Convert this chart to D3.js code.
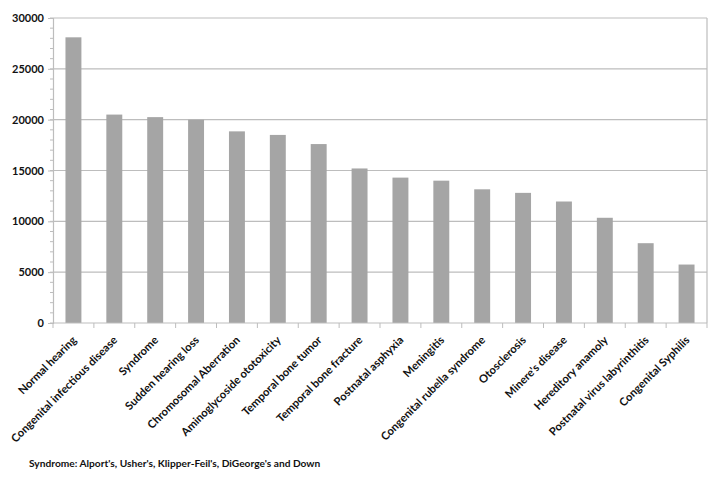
<!DOCTYPE html>
<html><head><meta charset="utf-8">
<script src="https://cdn.jsdelivr.net/npm/d3@7"></script>
<style>
html,body{margin:0;padding:0;background:#fff;}
svg text{font-family:Lato,"Open Sans",sans-serif;font-weight:bold;fill:#111;}
</style></head>
<body><svg id="c" width="720" height="482"></svg>
<script>
const categories = ["Normal hearing","Congenital infectious disease","Syndrome","Sudden hearing loss","Chromosomal Aberration","Aminoglycoside ototoxicity","Temporal bone tumor","Temporal bone fracture","Postnatal asphyxia","Meningitis","Congenital rubella syndrome","Otosclerosis","Minere's disease","Hereditory anamoly","Postnatal virus labyrinthitis","Congenital Syphilis"];
const values = [28100,20500,20250,20000,18850,18500,17600,15200,14300,14000,13150,12800,11950,10350,7850,5750];
const yTicks = [0,5000,10000,15000,20000,25000,30000];
const minorTicks = d3.range(0,30001,1000);
const footnote = "Syndrome: Alport's, Usher's, Klipper-Feil's, DiGeorge's and Down";

const svg = d3.select("#c");
const m = {l:53, r:13, t:18, b:159};
const W = 720, H = 482;
const x = d3.scaleBand().domain(categories).range([m.l, W-m.r]).paddingInner(0.61).paddingOuter(0.305);
const y = d3.scaleLinear().domain([0,30000]).range([H-m.b, m.t]);
const grid = "#bdbdbd";

// gridlines
svg.append("g").selectAll("line").data(yTicks.slice(1)).join("line")
  .attr("x1", m.l).attr("x2", W-m.r).attr("y1", d=>y(d)).attr("y2", d=>y(d))
  .attr("stroke", grid).attr("stroke-width",1.2);
// right border
svg.append("line").attr("x1",W-m.r).attr("x2",W-m.r).attr("y1",y(30000)).attr("y2",y(0))
  .attr("stroke",grid).attr("stroke-width",1.2);

// bars
svg.append("g").selectAll("rect").data(values).join("rect")
  .attr("x",(d,i)=>x(categories[i])).attr("width",x.bandwidth())
  .attr("y",d=>y(d)).attr("height",d=>y(0)-y(d)).attr("fill","#a5a5a5");

// y axis
const ya = svg.append("g").attr("transform",`translate(${m.l},0)`)
  .call(d3.axisLeft(y).tickValues(yTicks).tickSize(5).tickPadding(4).tickFormat(d3.format("d")));
ya.select(".domain").attr("stroke",grid).attr("stroke-width",1.2);
ya.selectAll(".tick line").attr("stroke",grid);
ya.selectAll("text").style("font-size","11px").attr("fill","#111");
svg.append("g").selectAll("line").data(minorTicks).join("line")
  .attr("x1",m.l-3).attr("x2",m.l).attr("y1",d=>y(d)).attr("y2",d=>y(d)).attr("stroke",grid);

// x axis
const step = x.step();
const bounds = d3.range(categories.length+1).map(i=>m.l + i*step);
svg.append("line").attr("x1",m.l).attr("x2",W-m.r).attr("y1",y(0)).attr("y2",y(0))
  .attr("stroke",grid).attr("stroke-width",1.2);
svg.append("g").selectAll("line").data(bounds).join("line")
  .attr("x1",d=>d).attr("x2",d=>d).attr("y1",y(0)).attr("y2",y(0)+5).attr("stroke",grid);

svg.append("g").selectAll("text").data(categories).join("text")
  .attr("transform",d=>`translate(${x(d)+x.bandwidth()/2+1},${y(0)+15}) rotate(-45)`)
  .attr("text-anchor","end").attr("dy","0.35em")
  .style("font-size","11.2px").text(d=>d);

svg.append("text").attr("x",29).attr("y",467).style("font-size","10.2px").text(footnote);
</script></body></html>
